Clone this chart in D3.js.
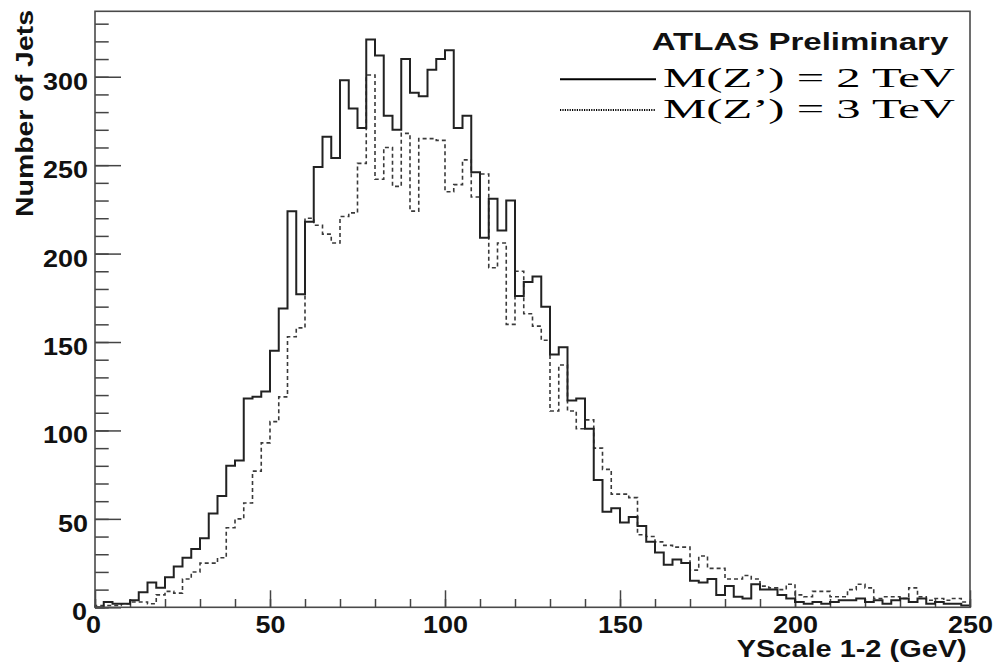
<!DOCTYPE html>
<html><head><meta charset="utf-8">
<script src="https://cdn.jsdelivr.net/npm/d3@7"></script>
<style>body{margin:0;background:#fff} svg{display:block;background:#fff}</style>
</head><body>
<svg id="c" width="997" height="672"></svg>
<script>
// histogram binning (2.5 GeV bins from 0 to 250 GeV)
const binStart = d3.range(0, 250, 2.5);
// M(Z') = 2 TeV (solid)
const mZ2TeV = [0,3,2,2,4,8.5,14,11,17,23, 28,33,39,53,63,80,83,118,119,122,
  145,169,224,177,218,249,266,254,298,282, 271,321,312,278,270,310,291,289,304,310,
  315,271,278,246,209,231,213,230,176,184, 187,170,143,147,117,118,101,72,54,56,
  48,51,46,37,31,24,27,25,15,14, 16,7,12,6,5,13,10,10,7,5,
  3,2,3,2,3,4,4,5,3,4, 2,4,5,3,5,2,3,2,2,1];
// M(Z') = 3 TeV (dashed)
const mZ3TeV = [1,1,1,2,3,3,2,7,9,8, 16,20,25,25,28,45,50,59,77,93,
  105,119,153,158,220,216,211,206,221,223, 251,301,242,260,238,268,224,265,265,264,
  235,239,253,232,245,192,206,160,190,166, 159,151,111,137,111,101,106,90,78,64,
  64,62,41,40,37,35,34,34,21,29, 22,22,16,16,18,16,12,11,10,13,
  7,6,9,9,6,6,10,13,11,5, 6,6,5,11,6,4,5,4,5,3];
const xTickLabels = [0,50,100,150,200,250];
const yTickLabels = [0,50,100,150,200,250,300];
const xMinorTicks = d3.range(0, 251, 10);
const yMinorTicks = d3.range(0, 331, 10);
const legendLabels = ["M(Z\u2019) = 2 TeV", "M(Z\u2019) = 3 TeV"];

const svg = d3.select('#c');
const L = 95, R = 970, T = 11.3, B = 607.3;
const x = d3.scaleLinear().domain([0, 250]).range([L, R]);
const y = d3.scaleLinear().domain([0, 337]).range([B, T]);
const sans = "'Liberation Sans', Arial, Helvetica, sans-serif";
const serif = "'Liberation Serif', 'Times New Roman', serif";

// minor ticks
const gxm = svg.append('g').attr('transform', `translate(0,${B})`)
  .call(d3.axisBottom(x).tickValues(xMinorTicks).tickSize(-8.3).tickFormat(''));
const gym = svg.append('g').attr('transform', `translate(${L},0)`)
  .call(d3.axisLeft(y).tickValues(yMinorTicks).tickSize(-13.7).tickFormat(''));
// major ticks
const gx = svg.append('g').attr('transform', `translate(0,${B})`)
  .call(d3.axisBottom(x).tickValues(xTickLabels).tickSize(-17).tickPadding(9.7));
const gy = svg.append('g').attr('transform', `translate(${L},0)`)
  .call(d3.axisLeft(y).tickValues(yTickLabels).tickSize(-26).tickPadding(7));
[gxm, gym, gx, gy].forEach(g => {
  g.select('.domain').remove();
  g.selectAll('.tick line').attr('stroke', '#444').attr('stroke-width', 1.5);
});
gx.selectAll('.tick text')
  .attr('font-family', sans).attr('font-weight', 'bold').attr('font-size', 23)
  .attr('fill', '#111')
  .attr('textLength', d => String(d).length * 15)
  .attr('lengthAdjust', 'spacingAndGlyphs')
  .attr('text-anchor', 'start')
  .attr('x', d => -String(d).length * 7.5 - (d === 0 ? 2 : 0));
gy.selectAll('.tick text')
  .attr('font-family', sans).attr('font-weight', 'bold').attr('font-size', 23)
  .attr('fill', '#111')
  .attr('textLength', d => String(d).length * 15)
  .attr('lengthAdjust', 'spacingAndGlyphs')
  .attr('text-anchor', 'start')
  .attr('dy', null).attr('y', 12.5)
  .attr('x', d => -7 - String(d).length * 15 + (d === 0 ? -1 : 0));

// histograms
function stepPoints(vals) {
  const pts = [[0, 0]];
  binStart.forEach((b, i) => pts.push([b, vals[i]]));
  pts.push([250, vals[vals.length - 1]]);
  pts.push([250, 0]);
  return pts;
}
const line = d3.line().x(d => x(d[0])).y(d => y(d[1])).curve(d3.curveStepAfter);
svg.append('path').attr('d', line(stepPoints(mZ3TeV)))
  .attr('fill', 'none').attr('stroke', '#3a3a3a').attr('stroke-width', 1.6)
  .attr('stroke-dasharray', '4,3');
svg.append('path').attr('d', line(stepPoints(mZ2TeV)))
  .attr('fill', 'none').attr('stroke', '#222').attr('stroke-width', 2);

// frame
svg.append('rect').attr('x', L).attr('y', T).attr('width', R - L).attr('height', B - T)
  .attr('fill', 'none').attr('stroke', '#4a4a4a').attr('stroke-width', 1.6);

// axis titles
svg.append('text').text('YScale 1-2 (GeV)')
  .attr('x', 736.7).attr('y', 656.7)
  .attr('font-family', sans).attr('font-weight', 'bold').attr('font-size', 23).attr('fill', '#111')
  .attr('textLength', 230).attr('lengthAdjust', 'spacingAndGlyphs');
svg.append('text').text('Number of Jets')
  .attr('transform', 'translate(33,217) rotate(-90)')
  .attr('font-family', sans).attr('font-weight', 'bold').attr('font-size', 23).attr('fill', '#111')
  .attr('textLength', 207).attr('lengthAdjust', 'spacingAndGlyphs');

// ATLAS label
svg.append('text').text('ATLAS Preliminary')
  .attr('x', 651.7).attr('y', 50)
  .attr('font-family', sans).attr('font-weight', 'bold').attr('font-size', 23).attr('fill', '#111')
  .attr('textLength', 296.6).attr('lengthAdjust', 'spacingAndGlyphs');

// legend
const legY = [79.3, 110];
const legDash = [null, '1.2,1.2'];
legendLabels.forEach((lab, i) => {
  svg.append('line').attr('x1', 560).attr('x2', 656).attr('y1', legY[i]).attr('y2', legY[i])
    .attr('stroke', '#000').attr('stroke-width', 2)
    .attr('stroke-dasharray', legDash[i]);
  svg.append('text').text(lab)
    .attr('x', 663).attr('y', legY[i] + 7.8)
    .attr('font-family', serif).attr('font-size', 27.5).attr('fill', '#000')
    .attr('textLength', 292).attr('lengthAdjust', 'spacingAndGlyphs');
});
</script>
</body></html>
